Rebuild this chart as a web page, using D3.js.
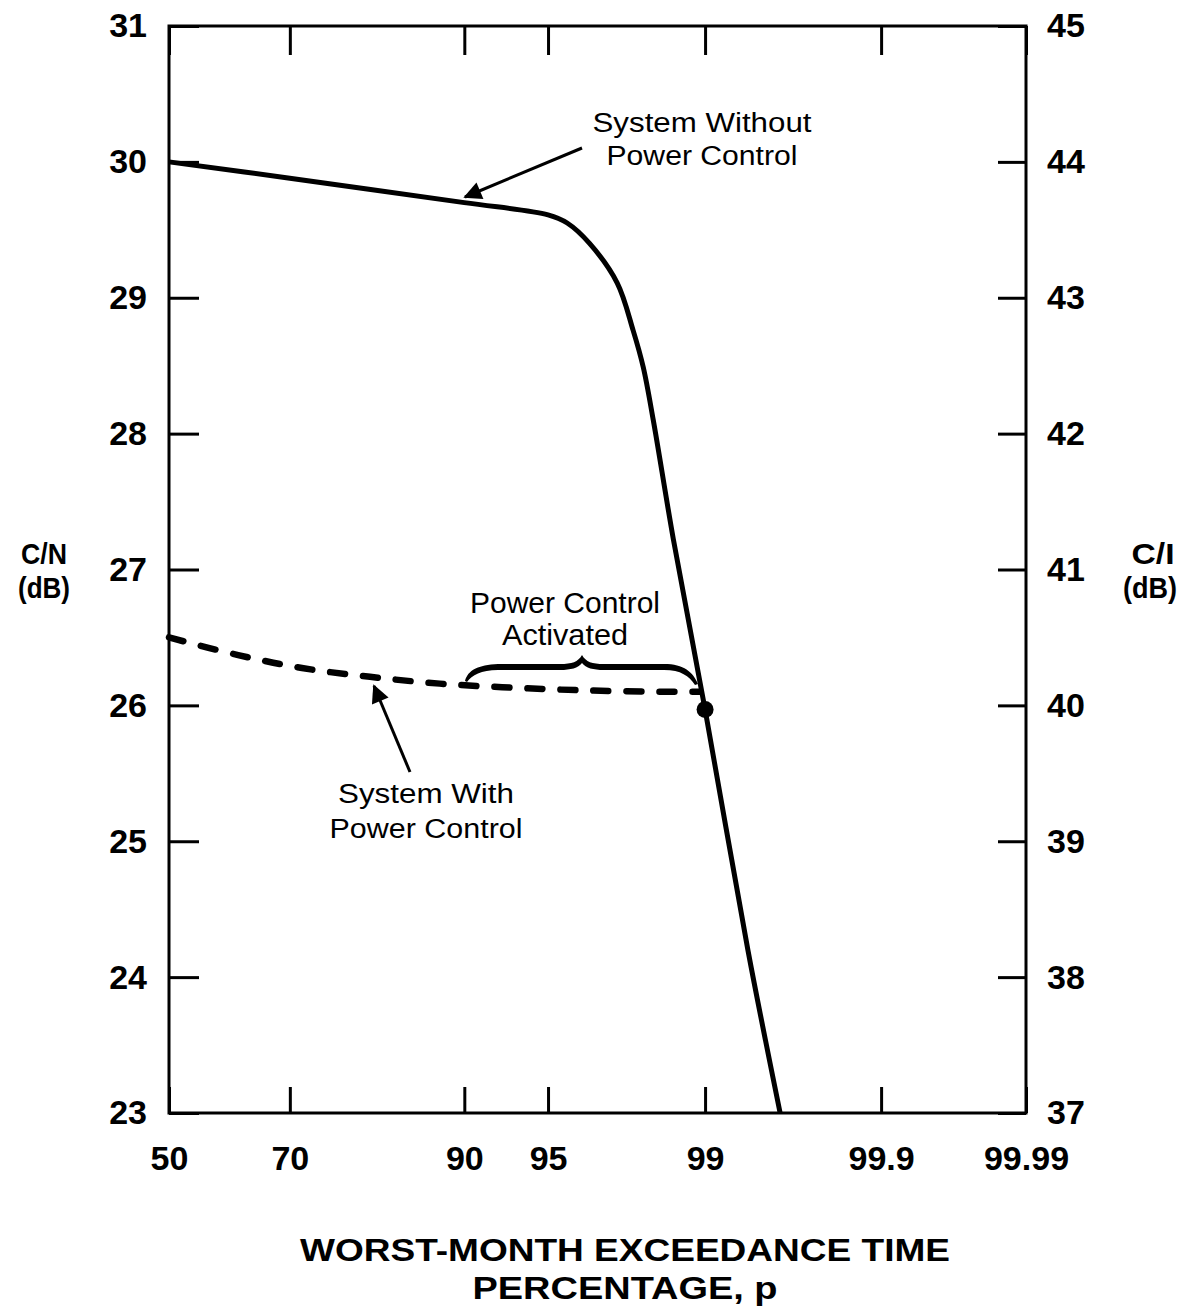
<!DOCTYPE html>
<html>
<head>
<meta charset="utf-8">
<script src="https://cdn.jsdelivr.net/npm/d3@7"></script>
<style>
  html, body { margin: 0; padding: 0; background: #fff; }
  svg { display: block; }
  text { font-family: "Liberation Sans", Arial, Helvetica, sans-serif; fill: #000; }
</style>
</head>
<body>
<svg id="chart" width="1194" height="1311"></svg>
<script>
// ---- data ----
const xTickValues = [50, 70, 90, 95, 99, 99.9, 99.99];
const xTickLabels = ["50", "70", "90", "95", "99", "99.9", "99.99"];
const cnTicks = [23, 24, 25, 26, 27, 28, 29, 30, 31];
const ciTicks = [37, 38, 39, 40, 41, 42, 43, 44, 45];

// C/N (dB) versus worst-month exceedance percentage, no power control
const withoutPct = [50, 70, 90, 95, 95.8, 96.6, 97.41, 97.8, 98.02, 98.22, 98.57, 99, 99.4, 99.6];
const withoutCN  = [30.00, 29.88, 29.70, 29.61, 29.55, 29.40, 29.11, 28.76, 28.49, 28.10, 27.22, 25.97, 24.20, 23.00];

// C/N (dB) with uplink power control
const withPct = [50, 61.8, 71.8, 80.85, 88, 93.2, 96.5, 98.35, 98.94];
const withCN  = [26.50, 26.37, 26.275, 26.21, 26.16, 26.13, 26.11, 26.10, 26.10];

// point where power control takes over
const activationPct = 99;
const activationCN = 25.97;

// ---- normal-probability axis helper (Acklam inverse normal CDF) ----
function probit(p) {
  const a = [-3.969683028665376e+01, 2.209460984245205e+02, -2.759285104469687e+02, 1.383577518672690e+02, -3.066479806614716e+01, 2.506628277459239e+00];
  const b = [-5.447609879822406e+01, 1.615858368580409e+02, -1.556989798598866e+02, 6.680131188771972e+01, -1.328068155288572e+01];
  const c = [-7.784894002430293e-03, -3.223964580411365e-01, -2.400758277161838e+00, -2.549732539343734e+00, 4.374664141464968e+00, 2.938163982698783e+00];
  const d = [7.784695709041462e-03, 3.224671290700398e-01, 2.445134137142996e+00, 3.754408661907416e+00];
  const plow = 0.02425, phigh = 1 - plow;
  let q, r;
  if (p < plow) {
    q = Math.sqrt(-2 * Math.log(p));
    return (((((c[0]*q+c[1])*q+c[2])*q+c[3])*q+c[4])*q+c[5]) / ((((d[0]*q+d[1])*q+d[2])*q+d[3])*q+1);
  } else if (p <= phigh) {
    q = p - 0.5; r = q * q;
    return (((((a[0]*r+a[1])*r+a[2])*r+a[3])*r+a[4])*r+a[5])*q / (((((b[0]*r+b[1])*r+b[2])*r+b[3])*r+b[4])*r+1);
  } else {
    q = Math.sqrt(-2 * Math.log(1 - p));
    return -(((((c[0]*q+c[1])*q+c[2])*q+c[3])*q+c[4])*q+c[5]) / ((((d[0]*q+d[1])*q+d[2])*q+d[3])*q+1);
  }
}

// ---- layout ----
const L = 169, R = 1026, T = 26, B = 1113;
const svg = d3.select("#chart");

const xz = d3.scaleLinear().domain([probit(0.5), probit(0.9999)]).range([L, R]);
const xp = pct => xz(probit(pct / 100));
const y  = d3.scaleLinear().domain([23, 31]).range([B, T]);
const yR = d3.scaleLinear().domain([37, 45]).range([B, T]);

// frame
svg.append("rect")
  .attr("x", L).attr("y", T).attr("width", R - L).attr("height", B - T)
  .attr("fill", "none").attr("stroke", "#000").attr("stroke-width", 3);

function styleAxis(g, fontSize) {
  g.select(".domain").remove();
  g.selectAll(".tick line").attr("stroke", "#000").attr("stroke-width", 3);
  g.selectAll(".tick text")
    .attr("font-size", fontSize).attr("font-weight", "bold")
    .attr("font-family", "'Liberation Sans', Arial, Helvetica, sans-serif")
    .attr("fill", "#000");
}

// left C/N axis
svg.append("g").attr("transform", `translate(${L},0)`)
  .call(d3.axisLeft(y).tickValues(cnTicks).tickSizeInner(-30).tickSizeOuter(0).tickPadding(22).tickFormat(d3.format("d")))
  .call(g => styleAxis(g, 34));

// right C/I axis
svg.append("g").attr("transform", `translate(${R},0)`)
  .call(d3.axisRight(yR).tickValues(ciTicks).tickSizeInner(-28).tickSizeOuter(0).tickPadding(21).tickFormat(d3.format("d")))
  .call(g => styleAxis(g, 34));

// bottom probability axis
const xTickZ = xTickValues.map(v => probit(v / 100));
svg.append("g").attr("transform", `translate(0,${B})`)
  .call(d3.axisBottom(xz).tickValues(xTickZ).tickSizeInner(-26).tickSizeOuter(0).tickPadding(33)
    .tickFormat((d, i) => xTickLabels[i]))
  .call(g => styleAxis(g, 34));

// top ticks (no labels)
svg.append("g").attr("transform", `translate(0,${T})`)
  .call(d3.axisTop(xz).tickValues(xTickZ).tickSizeInner(-29).tickSizeOuter(0).tickFormat(""))
  .call(g => styleAxis(g, 34));

// curves
const line = d3.line()
  .x(d => xp(d[0]))
  .y(d => y(d[1]))
  .curve(d3.curveCatmullRom.alpha(0.5));

svg.append("path")
  .datum(withoutPct.map((p, i) => [p, withoutCN[i]]))
  .attr("d", line)
  .attr("fill", "none").attr("stroke", "#000").attr("stroke-width", 5)
  .attr("stroke-linejoin", "round");

svg.append("path")
  .datum(withPct.map((p, i) => [p, withCN[i]]))
  .attr("d", line)
  .attr("fill", "none").attr("stroke", "#000").attr("stroke-width", 6.5)
  .attr("stroke-linecap", "round")
  .attr("stroke-dasharray", "15,18");

svg.append("circle")
  .attr("cx", xp(activationPct)).attr("cy", y(activationCN)).attr("r", 8.5)
  .attr("fill", "#000");

// brace over the activated region
svg.append("path")
  .attr("d", "M465,681 C468,670 478,665 498,664 L560,664 C572,664 578,662 582,655 C586,662 592,664 604,664 L664,664 C684,664 693,672 698,684 " +
             "L695,685 C689,676 681,670 664,670 L604,670 C593,670 586,668 582,663 C578,668 571,670 560,670 L498,670 C481,670 472,675 467,682 Z")
  .attr("fill", "#000");

// arrows
const defs = svg.append("defs");
defs.append("marker")
  .attr("id", "head").attr("viewBox", "0 0 10 10")
  .attr("refX", 9).attr("refY", 5)
  .attr("markerWidth", 7).attr("markerHeight", 6)
  .attr("markerUnits", "strokeWidth")
  .attr("orient", "auto")
  .append("path").attr("d", "M0,0 L10,5 L0,10 Z").attr("fill", "#000");

function arrow(x1, y1, x2, y2) {
  svg.append("line")
    .attr("x1", x1).attr("y1", y1).attr("x2", x2).attr("y2", y2)
    .attr("stroke", "#000").attr("stroke-width", 3)
    .attr("marker-end", "url(#head)");
}
arrow(582, 148, 465, 197);
arrow(410, 772, 374, 686);

// text labels
function label(txt, cx, baseline, size, width, weight) {
  const t = svg.append("text")
    .attr("x", cx).attr("y", baseline)
    .attr("text-anchor", "middle")
    .attr("font-size", size)
    .attr("font-weight", weight || "normal")
    .text(txt);
  if (width) t.attr("textLength", width).attr("lengthAdjust", "spacingAndGlyphs");
  return t;
}

label("System Without", 702, 132, 27, 219);
label("Power Control", 702, 165, 27, 191);
label("Power Control", 565, 613, 29, 190);
label("Activated", 565, 645, 29, 126);
label("System With", 426, 803, 27, 176);
label("Power Control", 426, 838, 27, 193);

label("C/N", 44, 564, 30, 46, "bold");
label("(dB)", 44, 598, 30, 52, "bold");
label("C/I", 1153, 564, 30, 43, "bold");
label("(dB)", 1150, 598, 30, 54, "bold");

label("WORST-MONTH EXCEEDANCE TIME", 625, 1261, 31, 650, "bold");
label("PERCENTAGE, p", 625, 1299, 31, 305, "bold");
</script>
</body>
</html>
